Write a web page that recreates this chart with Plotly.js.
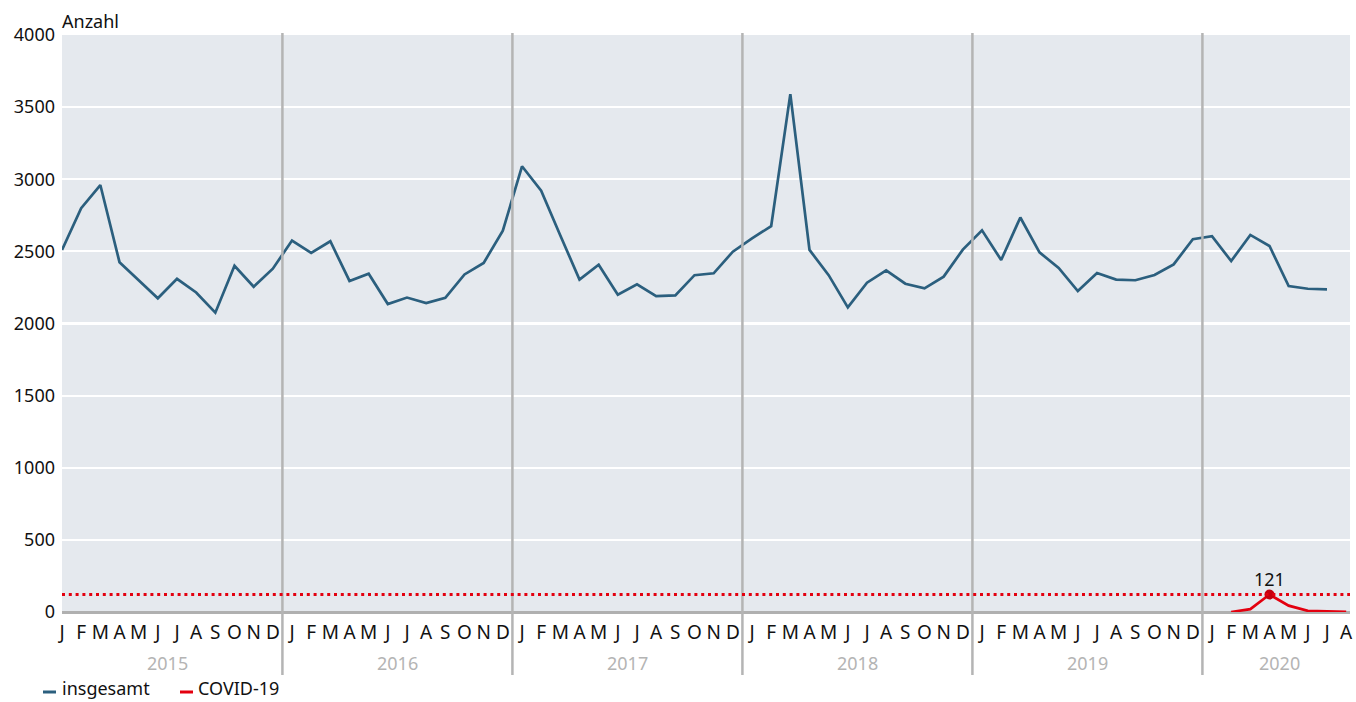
<!DOCTYPE html>
<html>
<head>
<meta charset="utf-8">
<script src="https://cdn.plot.ly/plotly-3.0.1.min.js"></script>
<style>
  html, body { margin: 0; padding: 0; background: #ffffff; }
  #chart { width: 1356px; height: 702px; }
</style>
</head>
<body>
<div id="chart"></div>
<script>
// ---- data ----
const monthLetters = ['J','F','M','A','M','J','J','A','S','O','N','D'];
const years = [2015, 2016, 2017, 2018, 2019, 2020];
const lastMonths2020 = 8; // axis runs through August 2020

// Total deaths per month (Jan 2015 - Jul 2020)
const insgesamt = [
  2510, 2800, 2960, 2425, 2300, 2175, 2310, 2215, 2075, 2400, 2255, 2380,
  2575, 2490, 2570, 2295, 2345, 2135, 2180, 2142, 2178, 2340, 2420, 2643,
  3090, 2920, 2610, 2305, 2408, 2200, 2272, 2190, 2195, 2335, 2348, 2498,
  2590, 2675, 3590, 2510, 2335, 2112, 2283, 2369, 2276, 2244, 2325, 2512,
  2646, 2440, 2735, 2493, 2385, 2225, 2350, 2304, 2300, 2336, 2410, 2584,
  2605, 2433, 2614, 2537, 2260, 2241, 2237
];
// COVID-19 deaths per month in 2020 (Jan - Aug)
const covid2020 = [null, 0, 20, 121, 44, 8, 2, 1];

const yTicks = [0, 500, 1000, 1500, 2000, 2500, 3000, 3500, 4000];
const yTitle = 'Anzahl';
const legendLabels = ['insgesamt', 'COVID-19'];

// ---- build axes ----
const tickvals = [], ticktext = [];
years.forEach((y, yi) => {
  const n = (y === 2020) ? lastMonths2020 : 12;
  for (let m = 0; m < n; m++) { tickvals.push(yi * 12 + m); ticktext.push(monthLetters[m]); }
});
const xTotal = insgesamt.map((_, i) => i);
const covidOffset = (years.length - 1) * 12;
const xCovid = covid2020.map((_, i) => covidOffset + i);

const covidMax = Math.max(...covid2020.filter(v => v !== null));
const covidMaxIdx = covid2020.indexOf(covidMax);

const BLUE = '#2b5f7e';
const RED = '#e3000f';
const DARKRED = '#c4000e';
const GREY = '#b4b4b4';
const FONT = 'Noto Sans, Open Sans, sans-serif';

// plot area geometry (px) for paper conversions
const L = 62, R = 1350, T = 35, B = 612;
const px2x = p => (p - L) / (R - L);
const py2y = p => (B - p) / (B - T);

const traces = [
  { x: xTotal, y: insgesamt, type: 'scatter', mode: 'lines', name: legendLabels[0],
    line: { color: BLUE, width: 2.7 } },
  { x: xCovid, y: covid2020, type: 'scatter', mode: 'lines', name: legendLabels[1],
    line: { color: RED, width: 2.7 }, connectgaps: false },
  { x: [xCovid[covidMaxIdx]], y: [covidMax], type: 'scatter', mode: 'markers',
    marker: { color: DARKRED, size: 10 }, showlegend: false, cliponaxis: false }
];

const shapes = [];
// year separators
for (let i = 1; i < years.length; i++) {
  shapes.push({ type: 'line', xref: 'x', yref: 'paper', x0: i * 12 - 0.5, x1: i * 12 - 0.5,
    y0: py2y(675), y1: py2y(33), line: { color: GREY, width: 2.5 }, layer: 'above' });
}
// dotted reference line at COVID maximum
shapes.push({ type: 'line', xref: 'paper', yref: 'y', x0: 0, x1: 1, y0: covidMax, y1: covidMax,
  line: { color: RED, width: 3, dash: '3px,3.8px' }, layer: 'above' });
// legend markers
shapes.push({ type: 'line', xref: 'paper', yref: 'paper', x0: px2x(43), x1: px2x(56),
  y0: py2y(692), y1: py2y(692), line: { color: BLUE, width: 3 } });
shapes.push({ type: 'line', xref: 'paper', yref: 'paper', x0: px2x(180), x1: px2x(193),
  y0: py2y(692), y1: py2y(692), line: { color: RED, width: 3 } });

const annotations = [];
years.forEach((y, yi) => {
  const n = (y === 2020) ? lastMonths2020 : 12;
  annotations.push({ xref: 'x', yref: 'paper', x: yi * 12 + (n - 1) / 2, y: py2y(663),
    text: String(y), showarrow: false, xanchor: 'center', yanchor: 'middle',
    font: { family: FONT, size: 18, color: GREY } });
});
annotations.push({ xref: 'paper', yref: 'paper', x: px2x(60), y: py2y(21), text: yTitle,
  showarrow: false, xanchor: 'left', yanchor: 'middle', font: { family: FONT, size: 18, color: '#111' } });
annotations.push({ xref: 'x', yref: 'y', x: xCovid[covidMaxIdx], y: covidMax, yshift: 16,
  text: String(covidMax), showarrow: false, xanchor: 'center', yanchor: 'middle',
  font: { family: FONT, size: 18, color: '#111' } });
annotations.push({ xref: 'paper', yref: 'paper', x: px2x(60), y: py2y(688), text: legendLabels[0],
  showarrow: false, xanchor: 'left', yanchor: 'middle', font: { family: FONT, size: 18, color: '#111' } });
annotations.push({ xref: 'paper', yref: 'paper', x: px2x(196), y: py2y(688), text: legendLabels[1],
  showarrow: false, xanchor: 'left', yanchor: 'middle', font: { family: FONT, size: 18, color: '#111' } });

const layout = {
  width: 1356, height: 702,
  margin: { l: L, r: 1356 - R, t: T, b: 702 - B, pad: 0 },
  paper_bgcolor: '#ffffff',
  plot_bgcolor: '#e5e9ee',
  showlegend: false,
  font: { family: FONT, size: 18, color: '#111' },
  xaxis: {
    range: [0, 67.2], tickvals: tickvals, ticktext: ticktext, tickangle: 0,
    showgrid: false, zeroline: false, showline: false, ticks: '', ticklabelstandoff: 7,
    tickfont: { family: FONT, size: 19, color: '#111' }, fixedrange: true
  },
  yaxis: {
    range: [0, 4000], tickvals: yTicks, ticktext: yTicks.map(String),
    showgrid: true, gridcolor: '#ffffff', gridwidth: 2.2,
    zeroline: true, zerolinecolor: '#b0b0b0', zerolinewidth: 3,
    showline: false, ticks: '', ticklabelstandoff: 6,
    tickfont: { family: FONT, size: 18, color: '#111' }, fixedrange: true
  },
  shapes: shapes,
  annotations: annotations
};

Plotly.newPlot('chart', traces, layout, { displayModeBar: false, staticPlot: true });
</script>
</body>
</html>
